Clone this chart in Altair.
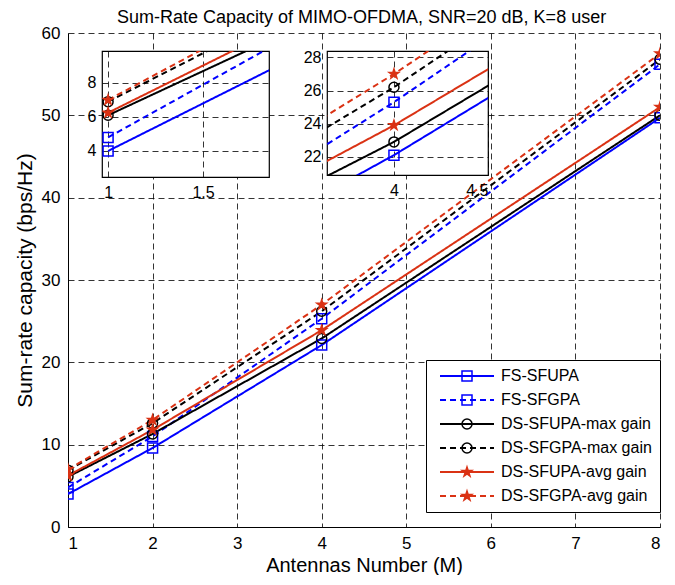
import altair as alt
import pandas as pd

# ---------------- data ----------------
M = [1, 2, 4, 8]
series_names = [
    "FS-SFUPA",
    "FS-SFGPA",
    "DS-SFUPA-max gain",
    "DS-SFGPA-max gain",
    "DS-SFUPA-avg gain",
    "DS-SFGPA-avg gain",
]
fs_sfupa = [4.0, 9.6, 22.1, 49.7]
fs_sfgpa = [4.8, 11.0, 25.3, 56.2]
ds_sfupa_max = [6.1, 11.3, 22.9, 50.0]
ds_sfgpa_max = [6.9, 12.6, 26.2, 56.8]
ds_sfupa_avg = [6.25, 11.8, 23.9, 51.0]
ds_sfgpa_avg = [7.0, 13.0, 27.0, 57.5]
series_values = [fs_sfupa, fs_sfgpa, ds_sfupa_max, ds_sfgpa_max, ds_sfupa_avg, ds_sfgpa_avg]

main_x_ticks = [1, 2, 3, 4, 5, 6, 7, 8]
main_y_ticks = [0, 10, 20, 30, 40, 50, 60]
inset1_x_domain = [0.968, 1.847]
inset1_y_domain = [2.47, 9.88]
inset1_x_ticks = [1, 1.5]
inset1_y_ticks = [4, 6, 8]
inset2_x_domain = [3.644, 4.5]
inset2_y_domain = [20.9, 28.39]
inset2_x_ticks = [4, 4.5]
inset2_y_ticks = [22, 24, 26, 28]

# marker legend keys (same visible text + zero-width space) so it stays a separate legend
marker_keys = [n + "\u200b" for n in series_names]

rows = []
for name, key, vals in zip(series_names, marker_keys, series_values):
    for m, v in zip(M, vals):
        rows.append({"M": m, "rate": v, "series": name, "series2": key})
df = pd.DataFrame(rows)

# ---------------- styles ----------------
FONT = "Liberation Sans"
RED = "#DA3214"
colors = ["#0000FF", "#0000FF", "#000000", "#000000", RED, RED]
dashes = [[1, 0], [6, 4], [1, 0], [6, 4], [1, 0], [6, 4]]
SQUARE = "M-1,-1H1V1H-1Z"
CIRCLE = "M1,0A1,1 0 1,1 -1,0A1,1 0 1,1 1,0Z"
STAR = ("M0,-1L0.225,-0.309L0.951,-0.309L0.363,0.118L0.588,0.809L0,0.382"
        "L-0.588,0.809L-0.363,0.118L-0.951,-0.309L-0.225,-0.309Z")
shapes = [SQUARE, SQUARE, CIRCLE, CIRCLE, STAR, STAR]
sizes = [100, 100, 100, 100, 230, 230]
fills = ["transparent", "transparent", "transparent", "transparent", RED, RED]
LINE_SYMBOL = "M-5.4,0H5.4"

W, H = 592, 494

legA = alt.Legend(
    title=None, orient="none", legendX=358, legendY=327,
    symbolType=LINE_SYMBOL, symbolSize=100, symbolStrokeWidth=2,
    symbolOffset=25, labelOffset=26, labelFontSize=16, labelFont=FONT,
    labelColor="black", padding=8, rowPadding=8,
    strokeColor="black", fillColor="white", labelLimit=400, zindex=1,
)
legB = alt.Legend(
    title=None, orient="none", legendX=358, legendY=327,
    symbolStrokeWidth=1.5,
    symbolOffset=25, labelOffset=26, labelFontSize=16, labelFont=FONT,
    labelOpacity=0, padding=8, rowPadding=8, labelLimit=400, zindex=2,
)

color_scale = alt.Scale(domain=series_names, range=colors)
dash_scale = alt.Scale(domain=series_names, range=dashes)
stroke_scale = alt.Scale(domain=marker_keys, range=colors)
shape_scale = alt.Scale(domain=marker_keys, range=shapes)
fill_scale = alt.Scale(domain=marker_keys, range=fills)
size_scale = alt.Scale(domain=marker_keys, range=sizes)


def panel(xenc, yenc, with_legend):
    la = legA if with_legend else None
    lb = legB if with_legend else None
    lines = alt.Chart(df).mark_line(strokeWidth=2, clip=True).encode(
        x=xenc, y=yenc,
        color=alt.Color("series:N", scale=color_scale, legend=la),
        strokeDash=alt.StrokeDash("series:N", scale=dash_scale, legend=la),
    )
    pts = alt.Chart(df).mark_point(strokeWidth=1.5, opacity=1, clip=True).encode(
        x=xenc, y=yenc,
        stroke=alt.Stroke("series2:N", scale=stroke_scale, legend=lb),
        shape=alt.Shape("series2:N", scale=shape_scale, legend=lb),
        fill=alt.Fill("series2:N", scale=fill_scale, legend=lb),
        size=alt.Size("series2:N", scale=size_scale, legend=lb),
    )
    return alt.layer(lines, pts)


grid_kw = dict(grid=True, gridDash=[6, 4], gridColor="black", gridWidth=0.8, gridOpacity=1, ticks=False)

main_x = alt.X("M:Q", scale=alt.Scale(domain=[1, 8], nice=False, zero=False),
               axis=alt.Axis(values=main_x_ticks, title="Antennas Number (M)", labelFontSize=17,
                             labelPadding=8, titleFontSize=20, titlePadding=4, domain=True,
                             domainColor="black", domainWidth=1, **grid_kw))
main_y = alt.Y("rate:Q", scale=alt.Scale(domain=[0, 60], nice=False, zero=False),
               axis=alt.Axis(values=main_y_ticks, title="Sum-rate capacity (bps/Hz)", labelFontSize=17,
                             labelPadding=8, titleFontSize=21, titlePadding=6, domain=True,
                             domainColor="black", domainWidth=1, **grid_kw))
main = panel(main_x, main_y, True).properties(width=W, height=H)


def inset(xd, yd, xt, yt, w, h):
    xe = alt.X("M:Q", scale=alt.Scale(domain=xd, nice=False, zero=False),
               axis=alt.Axis(values=xt, title=None, format="~g", labelFontSize=16, labelPadding=7,
                             domain=False, **grid_kw))
    ye = alt.Y("rate:Q", scale=alt.Scale(domain=yd, nice=False, zero=False),
               axis=alt.Axis(values=yt, title=None, format="~g", labelFontSize=16, labelPadding=6,
                             domain=False, **grid_kw))
    return panel(xe, ye, False).properties(
        width=w, height=h,
        view=alt.ViewBackground(fill="white", stroke="black", strokeWidth=1.2),
    )


inset1 = inset(inset1_x_domain, inset1_y_domain, inset1_x_ticks, inset1_y_ticks, 167, 126)
inset2 = inset(inset2_x_domain, inset2_y_domain, inset2_x_ticks, inset2_y_ticks, 161, 124)

spacer = alt.Chart(pd.DataFrame({"s": [0]})).mark_point(opacity=0).properties(width=34, height=10)

inset_pair = alt.concat(inset1, inset2, columns=2, spacing=58, bounds="flush", align="none")
row = alt.concat(spacer, inset_pair, columns=2, spacing=0, bounds="flush", align="none")

chart = alt.concat(main, row, columns=1, spacing=18 - H, bounds="flush", align="none").properties(
    title=alt.TitleParams(
        "Sum-Rate Capacity of MIMO-OFDMA, SNR=20 dB, K=8 user",
        fontSize=18, font=FONT, fontWeight="normal", color="black",
        anchor="start", frame="group", offset=-3, dx=49,
    ),
    padding={"left": 6, "top": 1, "right": 0, "bottom": 0},
).configure_view(strokeWidth=0).configure_axis(
    labelFont=FONT, titleFont=FONT, labelColor="black", titleColor="black", titleFontWeight="normal"
)

chart.save("out.html", embed_options={"renderer": "svg", "actions": False})
